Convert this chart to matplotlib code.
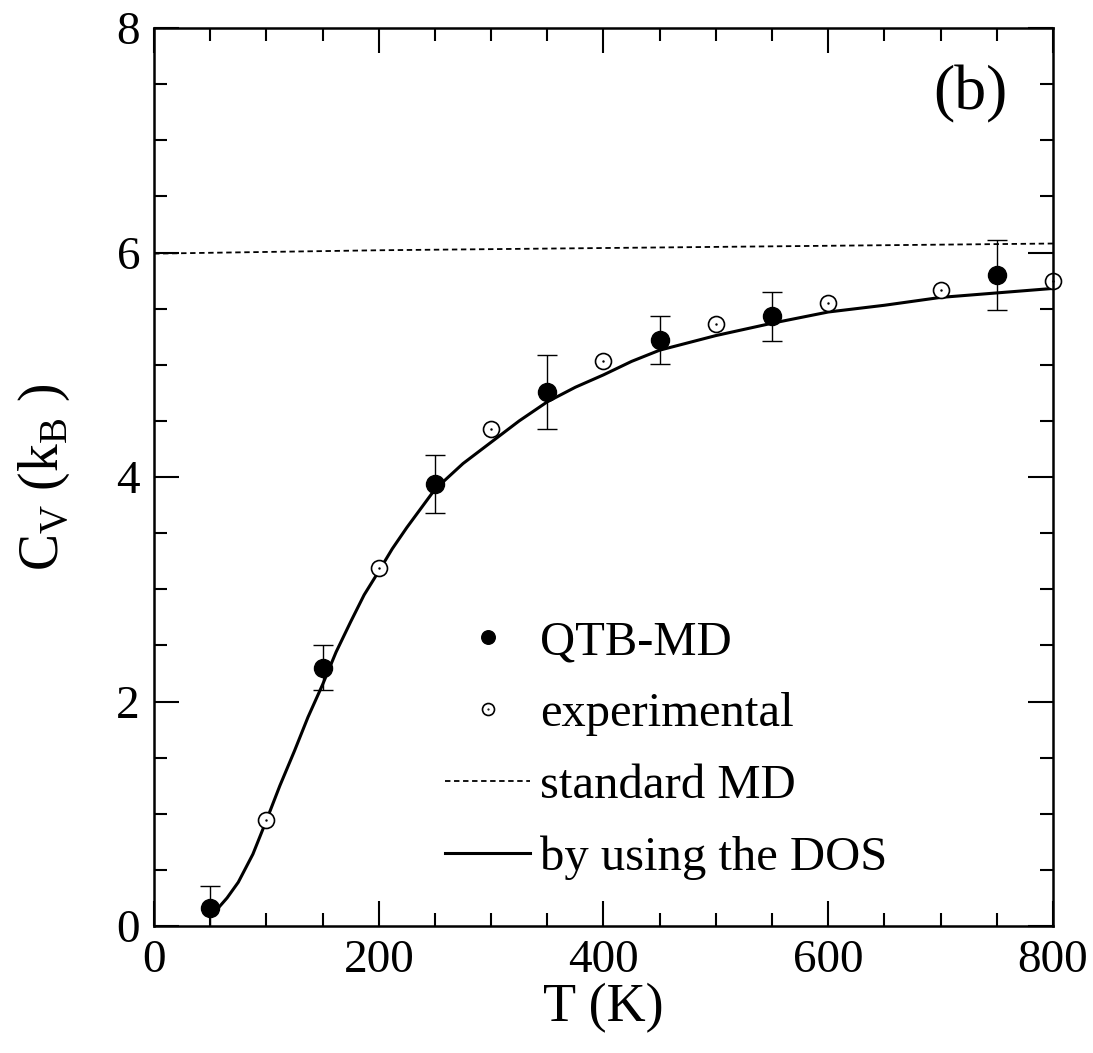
import numpy as np
import matplotlib.pyplot as plt
from matplotlib.legend_handler import HandlerTuple
from matplotlib.ticker import MultipleLocator

plt.rcParams['font.family'] = ['Liberation Serif']
plt.rcParams['mathtext.fontset'] = 'custom'
plt.rcParams['mathtext.rm'] = 'Liberation Serif'

# QTB-MD results with error bars
T_qtb = [50, 150, 250, 350, 450, 550, 750]
cv_qtb = [0.16, 2.30, 3.94, 4.76, 5.22, 5.43, 5.80]
err_qtb = [0.2, 0.2, 0.26, 0.33, 0.21, 0.22, 0.31]

# experimental
T_exp = [100, 200, 300, 400, 500, 600, 700, 800]
cv_exp = [0.94, 3.19, 4.43, 5.03, 5.36, 5.55, 5.67, 5.75]

# standard MD
T_std = [0, 200, 400, 600, 800]
cv_std = [5.99, 6.02, 6.04, 6.06, 6.08]

# from the DOS
T_dos = [52, 58, 65, 75, 88, 100, 112, 125, 137, 150, 162, 175, 187, 200,
         212, 225, 250, 275, 300, 325, 350, 375, 400, 425, 450, 500, 550,
         600, 650, 700, 750, 800]
cv_dos = [0.12, 0.17, 0.25, 0.39, 0.64, 0.94, 1.25, 1.56, 1.86, 2.15, 2.44,
          2.71, 2.95, 3.16, 3.36, 3.55, 3.89, 4.12, 4.31, 4.50, 4.67, 4.80,
          4.91, 5.03, 5.13, 5.26, 5.37, 5.47, 5.53, 5.60, 5.64, 5.68]

fig = plt.figure(figsize=(10.93, 10.53), dpi=100)
ax = fig.add_axes([0.1409, 0.1206, 0.8225, 0.8528])

l_std, = ax.plot(T_std, cv_std, 'k', ls=(0, (3, 2)), lw=1.3)
l_dos, = ax.plot(T_dos, cv_dos, 'k-', lw=2.2)
ax.errorbar(T_qtb, cv_qtb, yerr=err_qtb, fmt='none', ecolor='k', elinewidth=1,
            capsize=7, capthick=1)
p_qtb, = ax.plot(T_qtb, cv_qtb, 'ko', ms=13, ls='none')
p_exp, = ax.plot(T_exp, cv_exp, 'o', mfc='white', mec='k', mew=1.2, ms=11.5,
                 ls='none', clip_on=False)
p_dot, = ax.plot(T_exp, cv_exp, 'k.', ms=1.5, ls='none', clip_on=False)

ax.set_xlim(0, 800)
ax.set_ylim(0, 8)
ax.xaxis.set_major_locator(MultipleLocator(200))
ax.xaxis.set_minor_locator(MultipleLocator(50))
ax.yaxis.set_major_locator(MultipleLocator(2))
ax.yaxis.set_minor_locator(MultipleLocator(0.5))
ax.tick_params(which='both', direction='in', top=True, right=True, width=1.5)
ax.tick_params(which='major', length=18, labelsize=34, pad=10)
ax.tick_params(which='minor', length=9.5)
for s in ax.spines.values():
    s.set_linewidth(1.8)

ax.set_xlabel('T (K)', fontsize=39, labelpad=0)
ax.set_ylabel(r'C$_\mathrm{V}$ (k$_\mathrm{B}$ )', fontsize=40, labelpad=32)
ax.text(0.949, 0.909, '(b)', transform=ax.transAxes, fontsize=46,
        ha='right', va='baseline')

ax.legend([p_qtb, (p_exp, p_dot), l_std, l_dos],
          ['QTB-MD', 'experimental', 'standard MD', 'by using the DOS'],
          handler_map={tuple: HandlerTuple(ndivide=1)},
          loc='center left', bbox_to_anchor=(0.324, 0.196), frameon=False,
          fontsize=35, handlelength=1.75, handletextpad=0.2,
          labelspacing=0.57, markerscale=0.75, borderpad=0,
          borderaxespad=0)

fig.savefig('out.png')
